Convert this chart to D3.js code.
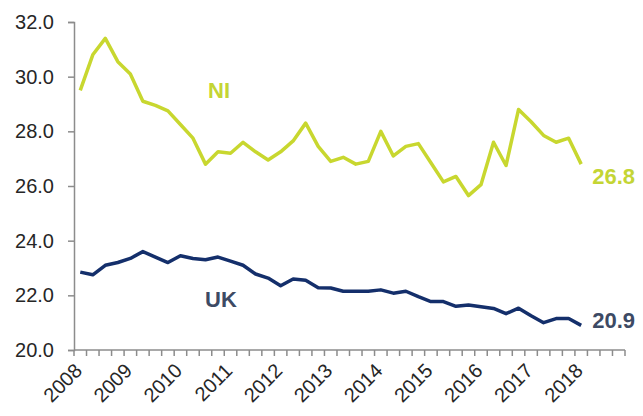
<!DOCTYPE html>
<html>
<head>
<meta charset="utf-8">
<script src="https://d3js.org/d3.v7.min.js"></script>
<style>
  body { margin: 0; background: #fff; }
  text { font-family: "Liberation Sans", Arial, sans-serif; }
</style>
</head>
<body>
<script>
// quarterly series, 2008 Q1 .. 2018 Q1
const niValues = [29.5, 30.8, 31.4, 30.55, 30.1, 29.1, 28.95, 28.75, 28.25, 27.75, 26.8,
  27.25, 27.2, 27.6, 27.25, 26.95, 27.25, 27.65, 28.3, 27.45, 26.9, 27.05, 26.8, 26.9,
  28.0, 27.1, 27.45, 27.55, 26.85, 26.15, 26.35, 25.65, 26.05, 27.6, 26.75, 28.8,
  28.35, 27.85, 27.6, 27.75, 26.8];
const ukValues = [22.85, 22.75, 23.1, 23.2, 23.35, 23.6, 23.4, 23.2, 23.45, 23.35, 23.3,
  23.4, 23.25, 23.1, 22.78, 22.63, 22.35, 22.6, 22.55, 22.28, 22.27, 22.15, 22.15, 22.15,
  22.2, 22.08, 22.15, 21.95, 21.77, 21.77, 21.6, 21.65, 21.58, 21.52, 21.33, 21.53,
  21.25, 21.0, 21.15, 21.15, 20.9];
const yearLabels = ["2008", "2009", "2010", "2011", "2012", "2013", "2014", "2015", "2016", "2017", "2018"];
const yTicks = [20, 22, 24, 26, 28, 30, 32];
const nCategories = 44;

const W = 643, H = 416;
const plotLeft = 74, plotRight = 625, plotTop = 22, plotBottom = 350;

const svg = d3.select("body").append("svg")
  .attr("width", W).attr("height", H);

const x = d3.scaleBand()
  .domain(d3.range(nCategories))
  .range([plotLeft, plotRight])
  .paddingInner(0).paddingOuter(0);

const y = d3.scaleLinear()
  .domain([20, 32])
  .range([plotBottom, plotTop]);

const cx = i => x(i) + x.bandwidth() / 2;

// y axis
const yAxis = svg.append("g")
  .attr("transform", `translate(${plotLeft},0)`)
  .call(d3.axisLeft(y).tickValues(yTicks).tickFormat(d3.format(".1f")).tickSize(6).tickSizeOuter(6).tickPadding(14));
yAxis.select(".domain").attr("stroke", "#8c8c8c").attr("stroke-width", 1.5);
yAxis.selectAll(".tick line").attr("stroke", "#8c8c8c").attr("stroke-width", 1.5);
yAxis.selectAll("text").attr("font-size", 20).attr("fill", "#262626")
  .style("font-family", "Liberation Sans, Arial, sans-serif");

// x axis: ticks at category boundaries
const xAxisG = svg.append("g").attr("transform", `translate(0,${plotBottom})`);
xAxisG.append("line")
  .attr("x1", plotLeft).attr("x2", plotRight)
  .attr("stroke", "#8c8c8c").attr("stroke-width", 1.5);
xAxisG.selectAll("line.tk")
  .data(d3.range(nCategories + 1))
  .join("line")
  .attr("class", "tk")
  .attr("x1", i => i < nCategories ? x(i) : x(nCategories - 1) + x.bandwidth())
  .attr("x2", i => i < nCategories ? x(i) : x(nCategories - 1) + x.bandwidth())
  .attr("y1", 0).attr("y2", 6)
  .attr("stroke", "#8c8c8c").attr("stroke-width", 1.5);
xAxisG.selectAll("text")
  .data(yearLabels)
  .join("text")
  .attr("transform", (d, i) => `translate(${cx(i * 4) + 3},${22}) rotate(-45)`)
  .attr("text-anchor", "end")
  .attr("font-size", 20)
  .attr("fill", "#262626")
  .text(d => d);

const line = d3.line()
  .x((d, i) => cx(i))
  .y(d => y(d))
  .curve(d3.curveLinear);

const niColor = "#c8d72f", ukColor = "#142f6b";

svg.append("path")
  .datum(niValues)
  .attr("fill", "none")
  .attr("stroke", niColor)
  .attr("stroke-width", 3.5)
  .attr("stroke-linejoin", "round")
  .attr("d", line);

svg.append("path")
  .datum(ukValues)
  .attr("fill", "none")
  .attr("stroke", ukColor)
  .attr("stroke-width", 3.5)
  .attr("stroke-linejoin", "round")
  .attr("d", line);

// series labels
svg.append("text")
  .attr("x", 219).attr("y", 98)
  .attr("text-anchor", "middle")
  .attr("font-size", 22).attr("font-weight", "bold")
  .attr("fill", "#c4d534")
  .text("NI");
svg.append("text")
  .attr("x", 221).attr("y", 307)
  .attr("text-anchor", "middle")
  .attr("font-size", 22).attr("font-weight", "bold")
  .attr("fill", "#3d4a64")
  .text("UK");

// last value labels
const last = niValues.length - 1;
svg.append("text")
  .attr("x", cx(last) + 11).attr("y", y(niValues[last]) + 20)
  .attr("font-size", 22).attr("font-weight", "bold")
  .attr("fill", "#c4d534")
  .text(d3.format(".1f")(niValues[last]));
svg.append("text")
  .attr("x", cx(last) + 11).attr("y", y(ukValues[last]) + 3)
  .attr("font-size", 22).attr("font-weight", "bold")
  .attr("fill", "#3d4a64")
  .text(d3.format(".1f")(ukValues[last]));
</script>
</body>
</html>
